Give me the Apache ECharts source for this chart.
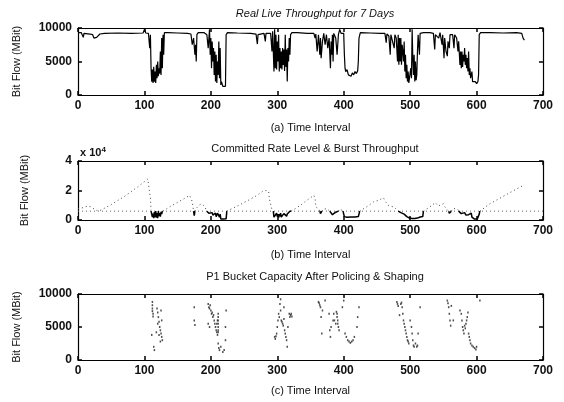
<!DOCTYPE html>
<html><head><meta charset="utf-8">
<script src="https://cdn.jsdelivr.net/npm/echarts@6/dist/echarts.min.js"></script>
<style>html,body{margin:0;padding:0;background:#fff}#c{width:564px;height:402px}</style>
</head><body><div id="c"></div>
<script>
// ---------- DATA ----------
const titles = ['Real Live Throughput for 7 Days','Committed Rate Level & Burst Throughput','P1 Bucket Capacity After Policing & Shaping'];
const xNames = ['(a) Time Interval','(b) Time Interval','(c) Time Interval'];
const yName = 'Bit Flow (MBit)';
const xTicks = [0,100,200,300,400,500,600,700];

// (a) real live throughput [interval, MBit]
const throughput = [[0,9300],[3,9200],[5,9300],[8,8600],[9,9200],[12,9100],[18,9100],[22,9000],[24,8500],[26,8400],[28,8600],[30,8800],[33,9100],[40,9200],[60,9250],[80,9200],[98,9250],[100,9800],[102,9250],[106,9200],[108,7000],[109,9000],[110,4000],[111,2000],[112,3800],[113,1800],[114,4200],[115,2000],[116,3500],[117,1800],[118,4500],[119,2500],[120,5000],[121,2800],[122,4000],[123,3200],[124,6500],[125,3000],[126,8500],[127,4000],[128,9000],[129,6000],[130,9300],[135,9300],[150,9250],[165,9200],[170,9100],[172,7500],[174,8500],[176,6000],[177,7500],[178,5000],[179,9000],[181,9300],[190,9300],[194,9000],[196,7000],[198,9800],[199,6000],[200,8500],[201,4000],[202,8000],[203,5000],[204,7000],[205,3000],[206,6500],[207,2000],[208,6000],[209,1800],[210,5000],[211,3000],[212,8000],[213,2500],[214,7000],[215,1500],[216,2000],[218,1300],[220,1200],[222,1300],[223,9000],[225,9300],[240,9250],[260,9200],[268,9100],[270,7600],[271,9000],[280,9200],[282,8000],[283,9200],[290,9200],[292,6500],[293,9500],[295,3500],[296,9800],[297,4000],[298,9000],[299,3800],[300,8000],[301,5000],[302,9000],[303,3500],[304,7000],[305,4000],[306,6500],[307,3800],[308,7000],[309,4500],[310,6800],[311,3600],[312,9000],[313,4200],[314,6800],[315,2000],[316,7000],[317,5000],[318,8500],[319,6000],[320,9000],[322,9300],[330,9300],[345,9200],[355,9200],[357,8500],[358,9100],[360,6500],[362,9000],[364,6000],[365,8500],[366,5500],[368,8000],[370,9200],[372,7500],[374,9000],[376,7000],[378,8500],[380,4000],[381,8000],[382,6000],[383,9000],[384,5000],[385,9200],[388,8500],[390,6000],[392,9000],[394,9800],[396,9200],[400,9200],[401,6000],[402,4000],[403,3500],[405,3800],[407,3000],[409,3200],[411,2800],[413,3300],[415,3000],[417,3500],[419,3200],[421,3600],[422,5000],[423,8500],[425,9300],[440,9250],[455,9200],[462,9200],[464,7800],[465,9100],[468,8800],[470,6000],[471,9000],[474,9000],[476,7000],[477,9000],[479,8500],[481,5000],[482,9000],[483,4500],[484,8500],[485,5000],[486,8500],[487,4500],[488,7500],[489,6500],[490,5000],[491,8000],[492,3500],[493,6000],[494,2500],[495,4500],[496,2000],[497,3500],[498,1800],[500,2000],[501,4000],[502,2500],[503,9800],[504,5500],[505,3000],[506,6000],[507,2000],[508,5000],[509,2200],[510,3000],[511,6500],[512,9000],[514,6000],[515,9200],[520,9300],[530,9300],[535,9200],[537,6800],[538,9000],[541,9200],[543,8500],[545,9300],[548,7500],[549,9000],[551,5500],[552,8500],[554,6500],[556,5800],[557,8000],[559,7000],[560,9000],[564,9000],[566,7000],[567,9000],[570,8500],[572,6500],[573,8000],[575,4500],[576,6500],[577,4000],[578,6500],[579,4200],[580,6000],[581,5000],[582,7000],[583,4500],[584,6000],[585,4000],[586,5500],[587,3500],[588,6500],[589,3000],[590,4000],[591,2500],[593,3500],[594,2000],[596,1800],[598,2000],[600,1700],[602,2000],[603,3000],[604,9000],[606,9300],[620,9300],[640,9250],[660,9300],[668,9200],[670,8500],[672,8200]];

// (b) committed rate level
const committed = [[0,6000],[700,6000]];
// (b) burst bucket level (dotted), null = gap
const bucket = [[0,7800],[5,8000],[10,8800],[15,9500],[20,8800],[25,7200],[30,6100],[35,6800],[50,10500],[70,16000],[90,22500],[100,26000],[105,27800],[107,26800],[108,18000],[109,15000],[110,6500],null,
[128,6000],[140,9500],[150,12000],[160,14500],[168,16700],[170,16000],[172,12500],[173,9000],[174,6000],null,
[176,6000],[178,7800],[182,10000],[186,11000],[188,10000],[190,9500],[193,7000],[194,6000],null,
[224,6000],[240,9500],[255,13000],[270,16800],[278,19500],[282,20000],[285,19000],[287,19500],[288,14500],[290,13400],[292,7000],[294,6000],null,
[321,6000],[335,10000],[345,13500],[355,16700],[357,14500],[358,9000],[360,7800],[363,7200],[364,6000],null,
[367,6000],[370,7500],[375,7500],[378,7000],[379,6000],null,
[392,6000],[394,7500],[396,7800],[399,6000],null,
[424,6000],[435,9000],[445,12300],[450,13000],[455,14000],[460,15000],[462,13000],[465,12800],[467,10000],[470,10500],[474,9000],[478,7800],[482,6000],null,
[520,6000],[530,9000],[538,11800],[540,12300],[542,9500],[545,10000],[550,11000],[552,9000],[555,8500],[558,6000],null,
[562,6000],[564,7500],[568,7800],[572,7000],[573,6000],null,
[605,6000],[620,11000],[640,16000],[660,21000],[670,23400],[672,23000]];
// (b) burst throughput below committed level (solid)
const burst = [[110,6000],[112,2000],[113,4300],[114,1300],[115,5300],[116,2000],[117,6000],[118,1600],[119,4600],[120,1300],[121,6000],[122,2600],[123,4600],[124,2300],[125,5600],[126,4000],[127,6000],[128,6000],null,
[174,6000],[175,3000],[176,6000],null,
[194,6000],[195,5300],[197,4600],[199,5300],[200,4300],[202,5000],[203,3300],[205,4300],[206,2600],[207,4600],[208,2300],[210,4600],[211,3300],[213,2000],[214,4000],[215,700],[217,300],[219,700],[221,500],[223,800],[224,6000],null,
[294,6000],[295,2000],[296,1200],[297,3300],[298,1300],[299,4600],[300,2300],[301,4000],[302,1600],[303,4000],[304,2600],[305,4600],[306,2000],[307,3000],[308,3300],[309,2000],[310,4300],[311,3000],[312,4000],[313,5000],[314,2600],[315,4000],[316,5300],[317,3300],[318,5000],[319,6000],[320,5300],[321,6000],null,
[364,6000],[365,4300],[366,3000],[367,6000],null,
[379,6000],[381,5300],[383,3600],[385,2300],[386,3300],[388,5300],[390,6000],[392,6000],null,
[399,6000],[400,4000],[401,2300],[403,1600],[405,1800],[408,1600],[411,2000],[414,1800],[417,2100],[420,2000],[422,2300],[423,4000],[424,6000],null,
[482,6000],[484,5300],[486,5000],[488,5600],[489,4300],[491,4000],[492,3000],[494,3300],[495,2300],[496,1600],[497,2600],[498,1000],[499,1300],[500,600],[501,1600],[503,1000],[505,1600],[507,1000],[509,1800],[511,1300],[513,1600],[515,2000],[517,1600],[519,2300],[520,6000],null,
[558,6000],[559,4600],[560,3600],[561,5600],[562,6000],null,
[573,6000],[575,5300],[577,4300],[578,5300],[580,3600],[582,5000],[584,3300],[586,4600],[588,3600],[590,4000],[591,2600],[592,4600],[593,2000],[595,1300],[597,600],[599,1000],[601,600],[603,1300],[604,4000],[605,6000]];

// (c) P1 bucket capacity after policing & shaping
const capacity = [[112,8800],[112,8300],[112,7800],[112,7400],[113,7000],[113,6600],[111,3800],[114,2000],[115,1500],[119,7800],[120,7200],[121,6500],[122,5800],[123,5000],[124,4500],[125,4000],[126,3500],[127,3000],[120,5500],[122,3800],[118,4200],[125,7500],[126,6000],[124,2800],
[175,8000],[175,6000],[176,5300],
[196,8500],[197,8000],[198,7800],[199,8300],[200,7500],[201,7000],[202,7200],[203,6500],[204,6800],[196,5500],[198,5000],[205,6000],[206,5500],[207,5000],[208,4500],[209,5500],[209,4200],[210,6000],[210,3800],[211,2500],[212,1800],[213,1500],[215,2000],[218,1200],[220,1500],[222,3000],[222,5000],[223,7500],[211,7000],[211,6500],[211,6000],[211,5500],[211,5000],[211,4500],[211,4200],
[296,3500],[297,3200],[298,3600],[299,4000],[300,5000],[301,6000],[302,7000],[303,6500],[304,8500],[305,9200],[306,6000],[307,5800],[308,5500],[309,5200],[310,6200],[311,4500],[312,4000],[313,3500],[314,3000],[315,2000],[316,5000],[318,7000],[319,6500],[320,6800],[321,7000],[322,6600],[310,8000],[305,7500],
[362,8800],[363,8600],[364,8300],[365,8000],[366,6500],[367,4000],[368,7500],[372,9000],[378,7000],[379,4500],[380,3500],[381,5000],[384,6000],[385,7000],[386,6000],[388,5500],[389,7300],[390,7000],[390,6500],[391,6000],[391,5500],[392,5000],[393,4500],[398,8000],[400,9000],[402,4000],[404,3500],[406,3000],[408,2800],[410,2600],[412,2800],[414,3000],[416,3500],[420,5000],[421,6500],[423,8000],
[480,8800],[481,8500],[482,8200],[484,6800],[486,8500],[487,8700],[488,8000],[490,6000],[491,5500],[492,5000],[493,4500],[494,4000],[495,3500],[496,3000],[497,2800],[498,2500],[489,7000],[500,6000],[502,5000],[503,4000],[504,3000],[505,2200],[506,2000],[508,2500],[510,2000],[511,2200],[512,4000],[515,8000],
[556,9000],[557,8600],[558,8000],[559,7000],[560,6000],[561,5200],[562,8200],[565,6000],[575,7500],[577,7000],[578,6000],[579,5000],[580,4500],[581,4000],[582,5200],[583,4800],[584,5500],[585,6000],[586,6500],[587,7200],[588,4000],[589,3500],[590,3000],[591,2500],[593,2200],[595,2000],[597,1800],[599,1600],[605,9000],[600,2000]];

// ---------- CHART ----------
const font = 'Liberation Sans, Arial, sans-serif';
const grids = [
  {left:78, top:28, width:465, height:67},
  {left:78, top:161, width:465, height:59},
  {left:78, top:294, width:465, height:66}
];
const yMax = [10000, 40000, 10000];
const yInt = [5000, 20000, 5000];
const nameGaps = [27, 29, 25];
const titleTops = [3, 138, 266];

const xAxis = [], yAxis = [];
grids.forEach((g, i) => {
  xAxis.push({gridIndex:i, type:'value', min:0, max:700, interval:100, position:'bottom',
    name:xNames[i], nameLocation:'middle', nameGap:nameGaps[i],
    nameTextStyle:{fontFamily:font, fontSize:11, color:'#111'},
    axisLine:{show:true, onZero:false, lineStyle:{color:'#000', width:1.2}},
    axisTick:{show:true, inside:true, length:4, lineStyle:{color:'#000', width:1.5}},
    axisLabel:{fontFamily:font, fontSize:12, fontWeight:'bold', color:'#111', margin:5},
    splitLine:{show:false}});
  xAxis.push({gridIndex:i, type:'value', min:0, max:700, interval:100, position:'top',
    axisLine:{show:true, onZero:false, lineStyle:{color:'#000', width:1.2}},
    axisTick:{show:true, inside:true, length:4, lineStyle:{color:'#000', width:1.5}},
    axisLabel:{show:false}, splitLine:{show:false}});
  yAxis.push({gridIndex:i, type:'value', min:0, max:yMax[i], interval:yInt[i], position:'left',
    name:yName, nameLocation:'middle', nameGap:i===1?48:56, nameRotate:90,
    nameTextStyle:{fontFamily:font, fontSize:11, color:'#111'},
    axisLine:{show:true, onZero:false, lineStyle:{color:'#000', width:1.2}},
    axisTick:{show:true, inside:true, length:4, lineStyle:{color:'#000', width:1.5}},
    axisLabel:{fontFamily:font, fontSize:12, fontWeight:'bold', color:'#111', margin:6,
      formatter: v => i===1 ? String(v/10000) : String(v)},
    splitLine:{show:false}});
  yAxis.push({gridIndex:i, type:'value', min:0, max:yMax[i], interval:yInt[i], position:'right',
    axisLine:{show:true, onZero:false, lineStyle:{color:'#000', width:1.2}},
    axisTick:{show:true, inside:true, length:4, lineStyle:{color:'#000', width:1.5}},
    axisLabel:{show:false}, splitLine:{show:false}});
});

const option = {
  animation:false,
  backgroundColor:'#fff',
  title: titles.map((t, i) => ({text:t, left:310, top:titleTops[i], textAlign:'center',
    textStyle:{fontFamily:font, fontSize:11, fontWeight:'normal', fontStyle:i===0?'italic':'normal', color:'#111'}})),
  grid: grids,
  xAxis: xAxis,
  yAxis: yAxis,
  graphic:[{type:'text', left:80, top:146, style:{text:'x 10{s|4}', rich:{s:{fontSize:8, verticalAlign:'top', padding:[0,0,6,0], fontFamily:font, fontWeight:'bold'}}, font:'bold 11px Liberation Sans, Arial', fill:'#111'}}],
  series:[
    {type:'line', xAxisIndex:0, yAxisIndex:0, data:throughput, showSymbol:false, lineStyle:{color:'#000', width:1.2}},
    {type:'line', xAxisIndex:2, yAxisIndex:2, data:committed, showSymbol:false, lineStyle:{color:'#666', width:1, type:[1,3]}},
    {type:'line', xAxisIndex:2, yAxisIndex:2, data:bucket, showSymbol:false, connectNulls:false, lineStyle:{color:'#444', width:1, type:[1,3]}},
    {type:'line', xAxisIndex:2, yAxisIndex:2, data:burst, showSymbol:false, connectNulls:false, lineStyle:{color:'#000', width:1.5}},
    {type:'scatter', xAxisIndex:4, yAxisIndex:4, data:capacity, symbol:'rect', symbolSize:[1.5,2], itemStyle:{color:'#222'}}
  ]
};
const chart = echarts.init(document.getElementById('c'), null, {renderer:'canvas'});
chart.setOption(option);
</script></body></html>
